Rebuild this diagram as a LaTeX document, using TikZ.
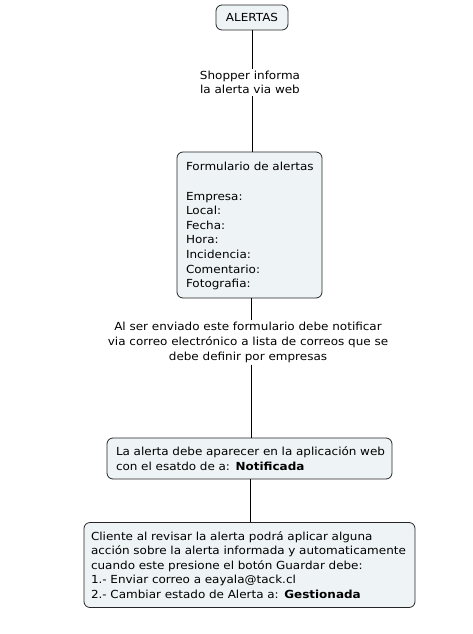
\documentclass[tikz,border=0pt]{standalone}
\usepackage{fontspec}
\setmainfont{DejaVu Sans}[FakeStretch=1.08]
\definecolor{boxfill}{HTML}{EEF3F5}
\begin{document}
\begin{tikzpicture}[x=1pt,y=-1pt,
  every node/.style={font=\fontsize{11.1}{14.6}\selectfont},
  box/.style={draw=black!85, line width=0.8pt, fill=boxfill, rounded corners=6pt, inner sep=0pt},
  lbl/.style={align=center, inner sep=2pt},
  conn/.style={draw=black, line width=0.8pt}]
\useasboundingbox (0,0) rectangle (472,634);
\node[box, minimum width=72pt, minimum height=25pt] (alertas) at (252,17.5) {ALERTAS};
\node[lbl] (l1) at (250,82.5) {Shopper informa\\la alerta via web};
\node[box, minimum width=145pt, minimum height=146pt, text width=127pt, align=left] (form) at (249.5,225)
  {\rule{0pt}{11pt}\mbox{Formulario de alertas}\\[14.6pt]Empresa:\\Local:\\Fecha:\\Hora:\\Incidencia:\\Comentario:\\Fotografia:};
\node[lbl] (l2) at (248,342.5) {Al ser enviado este formulario debe notificar\\via correo electrónico a lista de correos que se\\debe definir por empresas};
\node[box, minimum width=285pt, minimum height=41pt, text width=267pt, align=left] (notif) at (249.5,458.5)
  {\mbox{La alerta debe aparecer en la aplicación web}\\\mbox{con el esatdo de a: \textbf{Notificada}}};
\node[box, minimum width=331pt, minimum height=85pt, text width=317pt, align=left] (gest) at (249.5,565)
  {\mbox{Cliente al revisar la alerta podrá aplicar alguna}\\\mbox{acción sobre la alerta informada y automaticamente}\\\mbox{cuando este presione el botón Guardar debe:}\\1.- Enviar correo a eayala@tack.cl\\\mbox{2.- Cambiar estado de Alerta a: \textbf{Gestionada}}};
\draw[conn] (alertas.south) -- (alertas.south |- l1.north);
\draw[conn] (alertas.south |- l1.south) -- (alertas.south |- form.north);
\draw[conn] (251,0 |- form.south) -- (251,0 |- l2.north);
\draw[conn] (251,0 |- l2.south) -- (251,0 |- notif.north);
\draw[conn] (250,0 |- notif.south) -- (250,0 |- gest.north);
\end{tikzpicture}
\end{document}
